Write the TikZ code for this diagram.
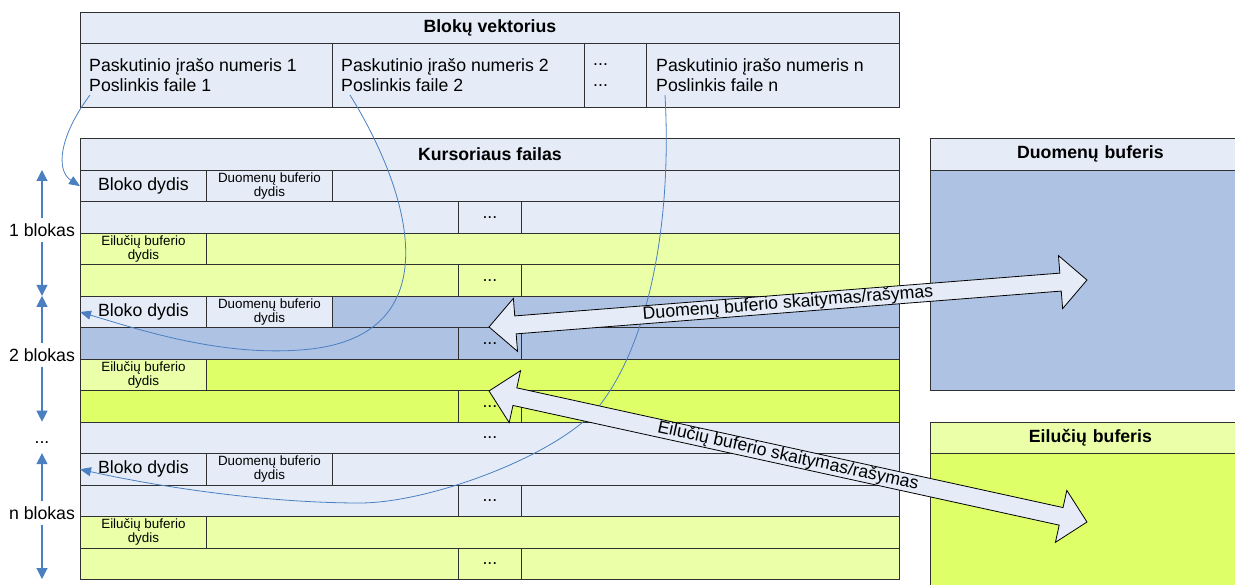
\documentclass[tikz,border=0pt]{standalone}
\usepackage{fontspec}
\setmainfont{Liberation Sans}
\usetikzlibrary{arrows.meta}

\definecolor{linec}{HTML}{303030}
\definecolor{paleblue}{HTML}{E5ECF7}
\definecolor{darkblue}{HTML}{AEC2E3}
\definecolor{paleyellow}{HTML}{EBFFA8}
\definecolor{brightyellow}{HTML}{DEFF68}
\definecolor{linkblue}{HTML}{4A7FC1}

\newcommand\bigtxt{\fontsize{17.7}{20.3}\selectfont}
\newcommand\smalltxt{\fontsize{13.4}{14.5}\selectfont}

\begin{document}
\begin{tikzpicture}[x=1pt,y=-1pt,
  cell/.style={draw=linec, line width=0.8pt, anchor=north west, inner sep=0pt,
               minimum height=31.46pt, align=center, font=\bigtxt},
  pb/.style={fill=paleblue}, db/.style={fill=darkblue},
  py/.style={fill=paleyellow}, by/.style={fill=brightyellow},
  fullrow/.style={cell, minimum width=819pt},
  firstcol/.style={cell, minimum width=126pt},
  dotcol/.style={cell, minimum width=63pt},
  small/.style={font=\smalltxt},
  title/.style={font=\bigtxt\bfseries},
  vtext/.style={anchor=west, align=left, inner sep=0pt, font=\bigtxt},
  axlabel/.style={inner sep=5pt, font=\bigtxt},
  axis/.style={draw=linkblue, line width=1.2pt, -{Triangle[length=11pt,width=11pt]}, fill=linkblue},
  link/.style={draw=linkblue, line width=0.8pt, -{Triangle[length=11pt,width=9pt]}, fill=none},
  blockarrow/.style={draw=black, line width=0.8pt, fill=paleblue}
]
\useasboundingbox (0,0) rectangle (1235,585);

% ---------- Blokų vektorius ----------
\node[fullrow, pb, minimum height=31pt, title] (vtitle) at (80,12) {Blokų vektorius};
\node[cell, pb, minimum width=252pt, minimum height=64pt] (v1) at (80,43) {};
\node[cell, pb, minimum width=252pt, minimum height=64pt] (v2) at (332,43) {};
\node[cell, pb, minimum width=62pt, minimum height=64pt] (vd) at (584,43) {};
\node[cell, pb, minimum width=253pt, minimum height=64pt] (vn) at (646,43) {};
\node[vtext] (v1t) at (89,75) {Paskutinio įrašo numeris 1\\Poslinkis faile 1};
\node[vtext] (v2t) at (341,75) {Paskutinio įrašo numeris 2\\Poslinkis faile 2};
\node[vtext] (vdt) at (593,75) {...\\...};
\node[vtext] (vnt) at (656,75) {Paskutinio įrašo numeris n\\Poslinkis faile n};

% ---------- Kursoriaus failas ----------
\node[fullrow, pb, minimum height=32pt, title] (ktitle) at (80,138) {Kursoriaus failas};

% block 1
\node[fullrow, pb] (r1) at (80,170) {};
\node[firstcol, pb] (bd1) at (80,170) {Bloko dydis};
\node[firstcol, pb, small] (dbs1) at (206,170) {Duomenų buferio\\dydis};
\node[fullrow, pb] (r2) at (80,201.46) {};
\node[dotcol, pb] (d2) at (458,201.46) {...};
\node[fullrow, py] (r3) at (80,232.92) {};
\node[firstcol, py, small] (eb1) at (80,232.92) {Eilučių buferio\\dydis};
\node[fullrow, py] (r4) at (80,264.38) {};
\node[dotcol, py] (d4) at (458,264.38) {...};

% block 2
\node[fullrow, db] (r5) at (80,295.85) {};
\node[firstcol, pb] (bd2) at (80,295.85) {Bloko dydis};
\node[firstcol, pb, small] (dbs2) at (206,295.85) {Duomenų buferio\\dydis};
\node[fullrow, db] (r6) at (80,327.31) {};
\node[dotcol, db] (d6) at (458,327.31) {...};
\node[fullrow, by] (r7) at (80,358.77) {};
\node[firstcol, py, small] (eb2) at (80,358.77) {Eilučių buferio\\dydis};
\node[fullrow, by] (r8) at (80,390.23) {};
\node[dotcol, by] (d8) at (458,390.23) {...};

% gap row
\node[fullrow, pb] (r9) at (80,421.69) {...};

% block n
\node[fullrow, pb] (r10) at (80,453.15) {};
\node[firstcol, pb] (bdn) at (80,453.15) {Bloko dydis};
\node[firstcol, pb, small] (dbsn) at (206,453.15) {Duomenų buferio\\dydis};
\node[fullrow, pb] (r11) at (80,484.62) {};
\node[dotcol, pb] (d11) at (458,484.62) {...};
\node[fullrow, py] (r12) at (80,516.08) {};
\node[firstcol, py, small] (ebn) at (80,516.08) {Eilučių buferio\\dydis};
\node[fullrow, py] (r13) at (80,547.54) {};
\node[dotcol, py] (d13) at (458,547.54) {...};

% ---------- buffers ----------
\node[cell, pb, minimum width=320pt, minimum height=32pt, title, text width=315pt] (dtitle) at (930,138) {Duomenų buferis};
\node[cell, db, minimum width=320pt, minimum height=220pt] (dbody) at (930,170) {};
\node[cell, py, minimum width=320pt, minimum height=31.46pt, title, text width=315pt] (etitle) at (930,421.69) {Eilučių buferis};
\node[cell, by, minimum width=320pt, minimum height=140pt] (ebody) at (930,453.15) {};

% ---------- block axis on the left ----------
\node[axlabel] (l1) at (42,230) {1 blokas};
\node[axlabel] (l2) at (42,355) {2 blokas};
\node[axlabel] (ln) at (42,513) {n blokas};
\node[font=\bigtxt, anchor=base, inner sep=0pt] (ldots) at (42,443) {...};
\coordinate (a1t) at (42,170);
\coordinate (a1b) at (42,295.85);
\coordinate (a2t) at (42,295.85);
\coordinate (a2b) at (42,421.69);
\coordinate (ant) at (42,453.15);
\coordinate (anb) at (42,579);
\draw[axis] (l1.north) -- (a1t);
\draw[axis] (l1.south) -- (a1b);
\draw[axis] (l2.north) -- (a2t);
\draw[axis] (l2.south) -- (a2b);
\draw[axis] (ln.north) -- (ant);
\draw[axis] (ln.south) -- (anb);

% ---------- offsets into the cursor file ----------
\coordinate (p1) at (90,95);
\coordinate (p2) at (350,95);
\coordinate (p3) at (665,95);
\draw[link] (p1) .. controls (60,135) and (55,170) .. (bd1.west);
\draw[link] (p2) .. controls (415,200) and (450,340) .. (300,350)
                 .. controls (220,356) and (140,330) .. (bd2.west);
\draw[link] (p3) .. controls (672,220) and (650,340) .. (600,405)
                 .. controls (560,455) and (430,503) .. (360,503)
                 .. controls (260,503) and (150,485) .. (bdn.west);

% ---------- read/write block arrows ----------
\begin{scope}[shift={(788,303.5)}, rotate=4.49]
  \draw[blockarrow] (-299.9,0) -- (-273.4,-26.6) -- (-273.4,-9) -- (273.4,-9)
      -- (273.4,-26.6) -- (299.9,0) -- (273.4,26.6) -- (273.4,9)
      -- (-273.4,9) -- (-273.4,26.6) -- cycle;
\end{scope}
\node[rotate=4.49, font=\bigtxt, inner sep=0pt] (dtxt) at (788,303.5) {Duomenų buferio skaitymas/rašymas};

\begin{scope}[shift={(788,456.5)}, rotate=-12.36]
  \draw[blockarrow] (-306.1,0) -- (-279.6,-26.6) -- (-279.6,-9) -- (279.6,-9)
      -- (279.6,-26.6) -- (306.1,0) -- (279.6,26.6) -- (279.6,9)
      -- (-279.6,9) -- (-279.6,26.6) -- cycle;
\end{scope}
\node[rotate=-12.36, font=\bigtxt, inner sep=0pt] (etxt) at (788,456.5) {Eilučių buferio skaitymas/rašymas};

\end{tikzpicture}
\end{document}
